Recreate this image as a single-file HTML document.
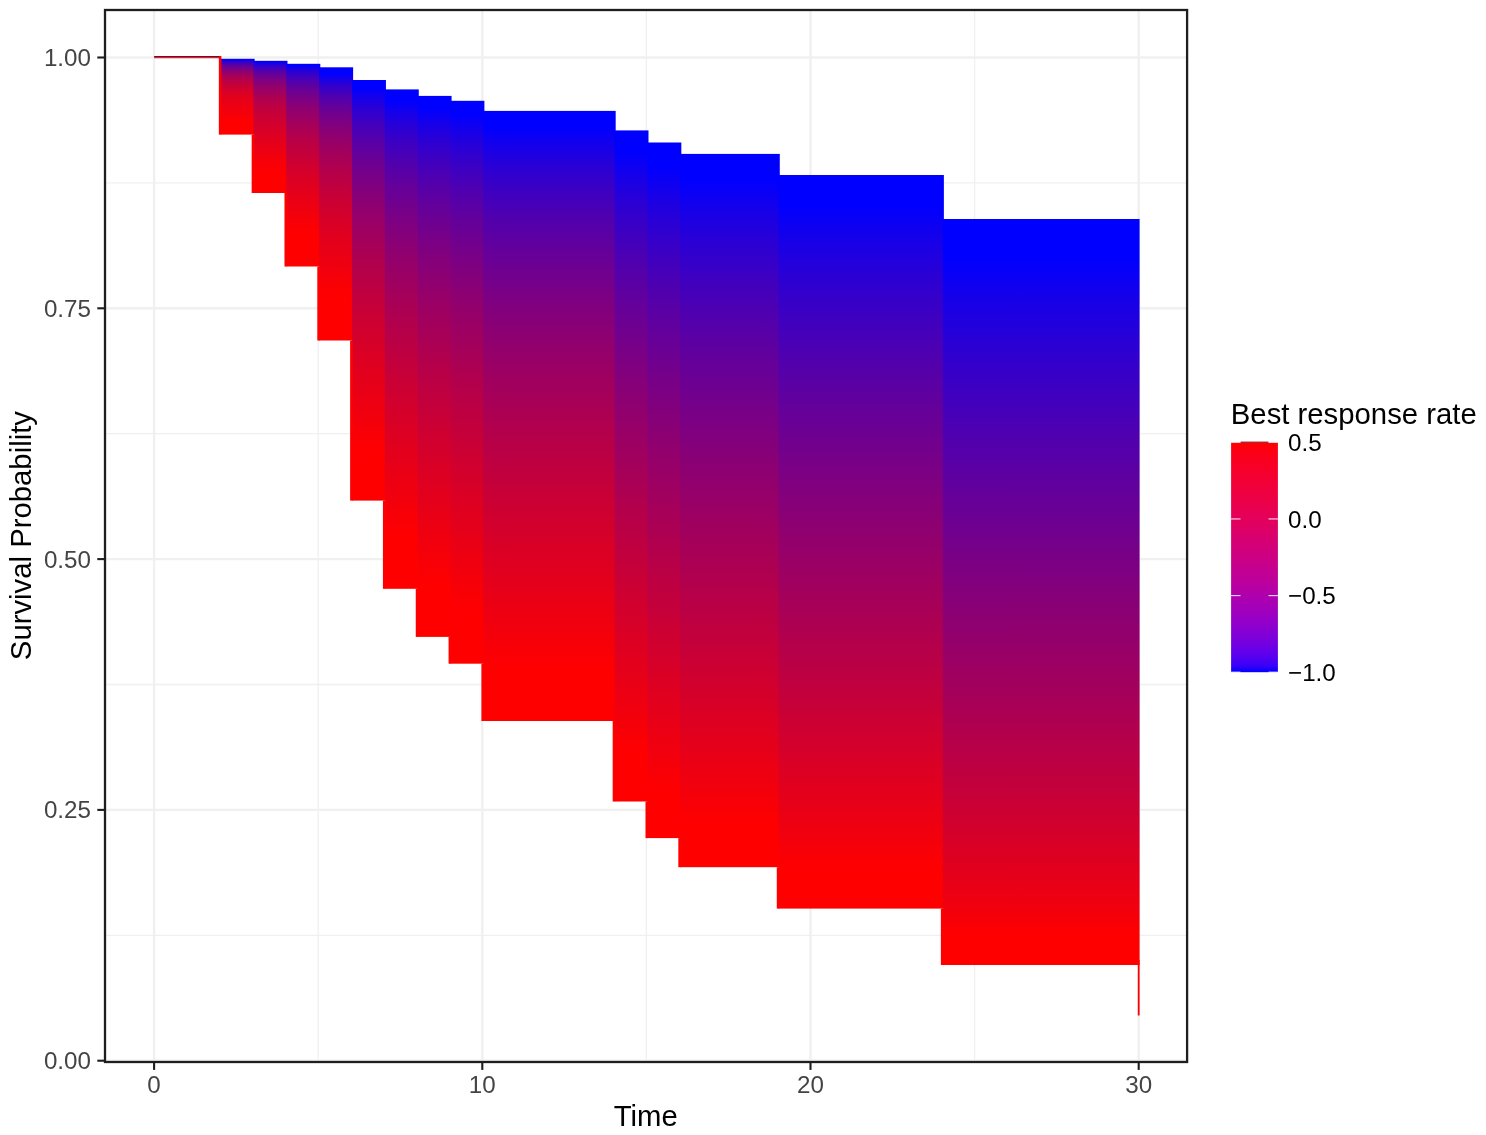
<!DOCTYPE html>
<html><head><meta charset="utf-8"><title>Survival curves</title><style>html,body{margin:0;padding:0;background:#fff;}body{width:1486px;height:1135px;overflow:hidden;}svg{display:block;}</style></head><body>
<svg width="1486" height="1135" viewBox="0 0 1486 1135" font-family="'Liberation Sans', Arial, sans-serif"><defs><linearGradient id="g0" gradientUnits="userSpaceOnUse" x1="0" y1="59.60" x2="0" y2="133.80"><stop offset="0.0000" stop-color="#0000ff"/><stop offset="0.0010" stop-color="#0200fd"/><stop offset="0.0021" stop-color="#0500fa"/><stop offset="0.0033" stop-color="#0700f8"/><stop offset="0.0044" stop-color="#0900f6"/><stop offset="0.0056" stop-color="#0c00f3"/><stop offset="0.0069" stop-color="#0e00f1"/><stop offset="0.0082" stop-color="#1000ef"/><stop offset="0.0095" stop-color="#1200ed"/><stop offset="0.0109" stop-color="#1500ea"/><stop offset="0.0124" stop-color="#1700e8"/><stop offset="0.0139" stop-color="#1900e6"/><stop offset="0.0154" stop-color="#1c00e3"/><stop offset="0.0170" stop-color="#1e00e1"/><stop offset="0.0187" stop-color="#2000df"/><stop offset="0.0205" stop-color="#2300dc"/><stop offset="0.0223" stop-color="#2500da"/><stop offset="0.0241" stop-color="#2700d8"/><stop offset="0.0261" stop-color="#2a00d5"/><stop offset="0.0281" stop-color="#2c00d3"/><stop offset="0.0301" stop-color="#2e00d1"/><stop offset="0.0323" stop-color="#3000cf"/><stop offset="0.0345" stop-color="#3300cc"/><stop offset="0.0368" stop-color="#3600c9"/><stop offset="0.0393" stop-color="#3900c6"/><stop offset="0.0417" stop-color="#3c00c3"/><stop offset="0.0443" stop-color="#3f00c0"/><stop offset="0.0470" stop-color="#4100be"/><stop offset="0.0498" stop-color="#4400bb"/><stop offset="0.0527" stop-color="#4700b8"/><stop offset="0.0556" stop-color="#4a00b5"/><stop offset="0.0587" stop-color="#4d00b2"/><stop offset="0.0619" stop-color="#5000af"/><stop offset="0.0653" stop-color="#5200ad"/><stop offset="0.0687" stop-color="#5500aa"/><stop offset="0.0723" stop-color="#5800a7"/><stop offset="0.0760" stop-color="#5b00a4"/><stop offset="0.0798" stop-color="#5e00a1"/><stop offset="0.0838" stop-color="#60009f"/><stop offset="0.0879" stop-color="#63009c"/><stop offset="0.0922" stop-color="#660099"/><stop offset="0.0967" stop-color="#690096"/><stop offset="0.1013" stop-color="#6c0093"/><stop offset="0.1060" stop-color="#6f0090"/><stop offset="0.1110" stop-color="#71008e"/><stop offset="0.1161" stop-color="#74008b"/><stop offset="0.1214" stop-color="#770088"/><stop offset="0.1269" stop-color="#7a0085"/><stop offset="0.1326" stop-color="#7d0082"/><stop offset="0.1385" stop-color="#800080"/><stop offset="0.1447" stop-color="#83007c"/><stop offset="0.1510" stop-color="#860079"/><stop offset="0.1576" stop-color="#8a0075"/><stop offset="0.1644" stop-color="#8d0072"/><stop offset="0.1715" stop-color="#91006e"/><stop offset="0.1788" stop-color="#94006b"/><stop offset="0.1864" stop-color="#980067"/><stop offset="0.1943" stop-color="#9b0064"/><stop offset="0.2025" stop-color="#9f0060"/><stop offset="0.2109" stop-color="#a2005d"/><stop offset="0.2197" stop-color="#a60059"/><stop offset="0.2260" stop-color="#a80057"/><stop offset="0.2288" stop-color="#a90056"/><stop offset="0.2382" stop-color="#ac0053"/><stop offset="0.2479" stop-color="#af0050"/><stop offset="0.2580" stop-color="#b1004e"/><stop offset="0.2685" stop-color="#b4004b"/><stop offset="0.2793" stop-color="#b70048"/><stop offset="0.2906" stop-color="#ba0045"/><stop offset="0.3022" stop-color="#bc0043"/><stop offset="0.3143" stop-color="#bf0040"/><stop offset="0.3268" stop-color="#c2003d"/><stop offset="0.3397" stop-color="#c5003a"/><stop offset="0.3532" stop-color="#c80037"/><stop offset="0.3671" stop-color="#cb0034"/><stop offset="0.3815" stop-color="#ce0031"/><stop offset="0.3964" stop-color="#d1002e"/><stop offset="0.4118" stop-color="#d4002b"/><stop offset="0.4262" stop-color="#d60029"/><stop offset="0.4278" stop-color="#d60029"/><stop offset="0.4444" stop-color="#d90026"/><stop offset="0.4615" stop-color="#dc0023"/><stop offset="0.4793" stop-color="#de0021"/><stop offset="0.4977" stop-color="#e1001e"/><stop offset="0.5167" stop-color="#e4001b"/><stop offset="0.5305" stop-color="#e60019"/><stop offset="0.5365" stop-color="#e60019"/><stop offset="0.5569" stop-color="#e80017"/><stop offset="0.5780" stop-color="#e90016"/><stop offset="0.5999" stop-color="#eb0014"/><stop offset="0.6226" stop-color="#ed0012"/><stop offset="0.6461" stop-color="#ef0010"/><stop offset="0.6703" stop-color="#f0000f"/><stop offset="0.6955" stop-color="#f2000d"/><stop offset="0.7215" stop-color="#f4000b"/><stop offset="0.7348" stop-color="#f5000a"/><stop offset="0.7484" stop-color="#f60009"/><stop offset="0.7762" stop-color="#f90006"/><stop offset="0.8051" stop-color="#fc0003"/><stop offset="0.8318" stop-color="#ff0000"/><stop offset="0.8349" stop-color="#ff0000"/><stop offset="0.8657" stop-color="#ff0000"/><stop offset="0.8976" stop-color="#ff0000"/><stop offset="0.9306" stop-color="#ff0000"/><stop offset="0.9647" stop-color="#ff0000"/><stop offset="1.0000" stop-color="#ff0000"/></linearGradient><linearGradient id="g1" gradientUnits="userSpaceOnUse" x1="0" y1="61.60" x2="0" y2="192.20"><stop offset="0.0000" stop-color="#0000ff"/><stop offset="0.0011" stop-color="#0200fd"/><stop offset="0.0023" stop-color="#0400fb"/><stop offset="0.0035" stop-color="#0600f9"/><stop offset="0.0048" stop-color="#0800f6"/><stop offset="0.0061" stop-color="#0b00f4"/><stop offset="0.0075" stop-color="#0d00f2"/><stop offset="0.0089" stop-color="#0f00f0"/><stop offset="0.0103" stop-color="#1100ee"/><stop offset="0.0118" stop-color="#1300ec"/><stop offset="0.0134" stop-color="#1500ea"/><stop offset="0.0150" stop-color="#1700e8"/><stop offset="0.0167" stop-color="#1a00e6"/><stop offset="0.0184" stop-color="#1c00e3"/><stop offset="0.0202" stop-color="#1e00e1"/><stop offset="0.0210" stop-color="#1f00e0"/><stop offset="0.0221" stop-color="#2000df"/><stop offset="0.0240" stop-color="#2300dc"/><stop offset="0.0260" stop-color="#2600d9"/><stop offset="0.0281" stop-color="#2900d6"/><stop offset="0.0302" stop-color="#2b00d4"/><stop offset="0.0325" stop-color="#2e00d1"/><stop offset="0.0348" stop-color="#3100ce"/><stop offset="0.0372" stop-color="#3400cb"/><stop offset="0.0396" stop-color="#3700c8"/><stop offset="0.0422" stop-color="#3900c6"/><stop offset="0.0449" stop-color="#3c00c3"/><stop offset="0.0476" stop-color="#3f00c0"/><stop offset="0.0505" stop-color="#4200bd"/><stop offset="0.0534" stop-color="#4400bb"/><stop offset="0.0565" stop-color="#4700b8"/><stop offset="0.0596" stop-color="#4a00b5"/><stop offset="0.0629" stop-color="#4d00b2"/><stop offset="0.0663" stop-color="#5000af"/><stop offset="0.0698" stop-color="#5200ad"/><stop offset="0.0735" stop-color="#5500aa"/><stop offset="0.0772" stop-color="#5800a7"/><stop offset="0.0811" stop-color="#5b00a4"/><stop offset="0.0852" stop-color="#5e00a1"/><stop offset="0.0894" stop-color="#60009f"/><stop offset="0.0937" stop-color="#63009c"/><stop offset="0.0982" stop-color="#660099"/><stop offset="0.1029" stop-color="#690096"/><stop offset="0.1077" stop-color="#6b0094"/><stop offset="0.1127" stop-color="#6e0091"/><stop offset="0.1163" stop-color="#70008f"/><stop offset="0.1179" stop-color="#71008e"/><stop offset="0.1232" stop-color="#74008b"/><stop offset="0.1288" stop-color="#770088"/><stop offset="0.1345" stop-color="#7a0085"/><stop offset="0.1405" stop-color="#7d0082"/><stop offset="0.1466" stop-color="#80007f"/><stop offset="0.1530" stop-color="#82007d"/><stop offset="0.1596" stop-color="#85007a"/><stop offset="0.1665" stop-color="#880077"/><stop offset="0.1735" stop-color="#8b0074"/><stop offset="0.1809" stop-color="#8e0071"/><stop offset="0.1884" stop-color="#91006e"/><stop offset="0.1963" stop-color="#94006b"/><stop offset="0.2044" stop-color="#970068"/><stop offset="0.2111" stop-color="#990066"/><stop offset="0.2128" stop-color="#9a0065"/><stop offset="0.2215" stop-color="#9c0063"/><stop offset="0.2305" stop-color="#9f0060"/><stop offset="0.2399" stop-color="#a2005d"/><stop offset="0.2495" stop-color="#a5005a"/><stop offset="0.2595" stop-color="#a80057"/><stop offset="0.2698" stop-color="#ab0054"/><stop offset="0.2805" stop-color="#ae0051"/><stop offset="0.2916" stop-color="#b1004e"/><stop offset="0.3031" stop-color="#b4004b"/><stop offset="0.3149" stop-color="#b70048"/><stop offset="0.3272" stop-color="#b90046"/><stop offset="0.3398" stop-color="#bc0043"/><stop offset="0.3530" stop-color="#bf0040"/><stop offset="0.3665" stop-color="#c1003e"/><stop offset="0.3806" stop-color="#c4003b"/><stop offset="0.3951" stop-color="#c60039"/><stop offset="0.4101" stop-color="#c80037"/><stop offset="0.4256" stop-color="#ca0035"/><stop offset="0.4417" stop-color="#cd0032"/><stop offset="0.4582" stop-color="#cf0030"/><stop offset="0.4754" stop-color="#d1002e"/><stop offset="0.4931" stop-color="#d3002c"/><stop offset="0.4949" stop-color="#d4002b"/><stop offset="0.5115" stop-color="#d60029"/><stop offset="0.5304" stop-color="#d90026"/><stop offset="0.5500" stop-color="#db0024"/><stop offset="0.5702" stop-color="#de0021"/><stop offset="0.5911" stop-color="#e0001f"/><stop offset="0.6127" stop-color="#e3001c"/><stop offset="0.6350" stop-color="#e60019"/><stop offset="0.6581" stop-color="#e90016"/><stop offset="0.6819" stop-color="#ec0013"/><stop offset="0.7064" stop-color="#ef0010"/><stop offset="0.7318" stop-color="#f2000d"/><stop offset="0.7580" stop-color="#f5000a"/><stop offset="0.7768" stop-color="#f70008"/><stop offset="0.7850" stop-color="#f80007"/><stop offset="0.8130" stop-color="#fa0005"/><stop offset="0.8418" stop-color="#fc0003"/><stop offset="0.8715" stop-color="#fe0001"/><stop offset="0.8959" stop-color="#ff0000"/><stop offset="0.9021" stop-color="#ff0000"/><stop offset="0.9338" stop-color="#ff0000"/><stop offset="0.9664" stop-color="#ff0000"/><stop offset="1.0000" stop-color="#ff0000"/></linearGradient><linearGradient id="g2" gradientUnits="userSpaceOnUse" x1="0" y1="64.60" x2="0" y2="265.70"><stop offset="0.0000" stop-color="#0000ff"/><stop offset="0.0012" stop-color="#0000ff"/><stop offset="0.0025" stop-color="#0000ff"/><stop offset="0.0039" stop-color="#0000ff"/><stop offset="0.0053" stop-color="#0200fd"/><stop offset="0.0067" stop-color="#0500fa"/><stop offset="0.0082" stop-color="#0700f8"/><stop offset="0.0097" stop-color="#0a00f5"/><stop offset="0.0113" stop-color="#0c00f3"/><stop offset="0.0130" stop-color="#0e00f1"/><stop offset="0.0147" stop-color="#1100ee"/><stop offset="0.0164" stop-color="#1300ec"/><stop offset="0.0183" stop-color="#1600e9"/><stop offset="0.0201" stop-color="#1800e7"/><stop offset="0.0221" stop-color="#1b00e4"/><stop offset="0.0241" stop-color="#1d00e2"/><stop offset="0.0262" stop-color="#2000df"/><stop offset="0.0284" stop-color="#2200dd"/><stop offset="0.0306" stop-color="#2500da"/><stop offset="0.0330" stop-color="#2700d8"/><stop offset="0.0354" stop-color="#2a00d5"/><stop offset="0.0379" stop-color="#2c00d3"/><stop offset="0.0404" stop-color="#2f00d0"/><stop offset="0.0431" stop-color="#3100ce"/><stop offset="0.0459" stop-color="#3400cb"/><stop offset="0.0487" stop-color="#3600c9"/><stop offset="0.0517" stop-color="#3900c6"/><stop offset="0.0548" stop-color="#3c00c3"/><stop offset="0.0579" stop-color="#3e00c1"/><stop offset="0.0612" stop-color="#4100be"/><stop offset="0.0646" stop-color="#4300bc"/><stop offset="0.0681" stop-color="#4600b9"/><stop offset="0.0717" stop-color="#4900b6"/><stop offset="0.0755" stop-color="#4b00b4"/><stop offset="0.0794" stop-color="#4e00b1"/><stop offset="0.0834" stop-color="#5100ae"/><stop offset="0.0876" stop-color="#5300ac"/><stop offset="0.0919" stop-color="#5600a9"/><stop offset="0.0963" stop-color="#5900a6"/><stop offset="0.1009" stop-color="#5b00a4"/><stop offset="0.1057" stop-color="#5e00a1"/><stop offset="0.1106" stop-color="#61009e"/><stop offset="0.1157" stop-color="#63009c"/><stop offset="0.1210" stop-color="#660099"/><stop offset="0.1265" stop-color="#690096"/><stop offset="0.1321" stop-color="#6c0093"/><stop offset="0.1380" stop-color="#6e0091"/><stop offset="0.1440" stop-color="#71008e"/><stop offset="0.1503" stop-color="#74008b"/><stop offset="0.1567" stop-color="#770088"/><stop offset="0.1634" stop-color="#790086"/><stop offset="0.1703" stop-color="#7c0083"/><stop offset="0.1774" stop-color="#7f0080"/><stop offset="0.1848" stop-color="#82007d"/><stop offset="0.1925" stop-color="#85007a"/><stop offset="0.2004" stop-color="#870078"/><stop offset="0.2085" stop-color="#8a0075"/><stop offset="0.2169" stop-color="#8d0072"/><stop offset="0.2257" stop-color="#90006f"/><stop offset="0.2347" stop-color="#93006c"/><stop offset="0.2440" stop-color="#960069"/><stop offset="0.2536" stop-color="#980067"/><stop offset="0.2636" stop-color="#9b0064"/><stop offset="0.2738" stop-color="#9e0061"/><stop offset="0.2844" stop-color="#a1005e"/><stop offset="0.2954" stop-color="#a4005b"/><stop offset="0.3067" stop-color="#a70058"/><stop offset="0.3185" stop-color="#aa0055"/><stop offset="0.3305" stop-color="#ad0052"/><stop offset="0.3430" stop-color="#b0004f"/><stop offset="0.3559" stop-color="#b3004c"/><stop offset="0.3692" stop-color="#b60049"/><stop offset="0.3830" stop-color="#b90046"/><stop offset="0.3972" stop-color="#bc0043"/><stop offset="0.4118" stop-color="#bf0040"/><stop offset="0.4269" stop-color="#c1003e"/><stop offset="0.4425" stop-color="#c4003b"/><stop offset="0.4586" stop-color="#c70038"/><stop offset="0.4752" stop-color="#cb0034"/><stop offset="0.4924" stop-color="#ce0031"/><stop offset="0.5100" stop-color="#d1002e"/><stop offset="0.5283" stop-color="#d4002b"/><stop offset="0.5470" stop-color="#d70028"/><stop offset="0.5664" stop-color="#da0025"/><stop offset="0.5864" stop-color="#dd0022"/><stop offset="0.6070" stop-color="#e0001f"/><stop offset="0.6282" stop-color="#e3001c"/><stop offset="0.6501" stop-color="#e60019"/><stop offset="0.6726" stop-color="#e90016"/><stop offset="0.6958" stop-color="#ec0013"/><stop offset="0.7197" stop-color="#ef0010"/><stop offset="0.7443" stop-color="#f2000d"/><stop offset="0.7696" stop-color="#f60009"/><stop offset="0.7956" stop-color="#f90006"/><stop offset="0.8224" stop-color="#fc0003"/><stop offset="0.8500" stop-color="#ff0000"/><stop offset="0.8784" stop-color="#ff0000"/><stop offset="0.9076" stop-color="#ff0000"/><stop offset="0.9375" stop-color="#ff0000"/><stop offset="0.9683" stop-color="#ff0000"/><stop offset="1.0000" stop-color="#ff0000"/></linearGradient><linearGradient id="g3" gradientUnits="userSpaceOnUse" x1="0" y1="68.10" x2="0" y2="339.70"><stop offset="0.0000" stop-color="#0000ff"/><stop offset="0.0014" stop-color="#0000ff"/><stop offset="0.0028" stop-color="#0000ff"/><stop offset="0.0042" stop-color="#0000ff"/><stop offset="0.0057" stop-color="#0000ff"/><stop offset="0.0073" stop-color="#0000ff"/><stop offset="0.0089" stop-color="#0000ff"/><stop offset="0.0105" stop-color="#0000ff"/><stop offset="0.0123" stop-color="#0000ff"/><stop offset="0.0140" stop-color="#0000ff"/><stop offset="0.0159" stop-color="#0000ff"/><stop offset="0.0178" stop-color="#0000ff"/><stop offset="0.0198" stop-color="#0000ff"/><stop offset="0.0218" stop-color="#0000ff"/><stop offset="0.0228" stop-color="#0000ff"/><stop offset="0.0239" stop-color="#0200fd"/><stop offset="0.0261" stop-color="#0500fa"/><stop offset="0.0284" stop-color="#0800f7"/><stop offset="0.0307" stop-color="#0b00f4"/><stop offset="0.0331" stop-color="#0e00f1"/><stop offset="0.0356" stop-color="#1100ee"/><stop offset="0.0382" stop-color="#1400eb"/><stop offset="0.0408" stop-color="#1800e7"/><stop offset="0.0436" stop-color="#1b00e4"/><stop offset="0.0465" stop-color="#1e00e1"/><stop offset="0.0494" stop-color="#2100de"/><stop offset="0.0525" stop-color="#2400db"/><stop offset="0.0556" stop-color="#2700d8"/><stop offset="0.0589" stop-color="#2a00d5"/><stop offset="0.0623" stop-color="#2e00d1"/><stop offset="0.0658" stop-color="#3100ce"/><stop offset="0.0694" stop-color="#3400cb"/><stop offset="0.0731" stop-color="#3700c8"/><stop offset="0.0770" stop-color="#3a00c5"/><stop offset="0.0810" stop-color="#3d00c2"/><stop offset="0.0851" stop-color="#4000bf"/><stop offset="0.0893" stop-color="#4400bb"/><stop offset="0.0938" stop-color="#4700b8"/><stop offset="0.0983" stop-color="#4a00b5"/><stop offset="0.1030" stop-color="#4d00b2"/><stop offset="0.1079" stop-color="#5000af"/><stop offset="0.1129" stop-color="#5300ac"/><stop offset="0.1181" stop-color="#5600a9"/><stop offset="0.1235" stop-color="#5a00a5"/><stop offset="0.1290" stop-color="#5d00a2"/><stop offset="0.1348" stop-color="#60009f"/><stop offset="0.1407" stop-color="#63009c"/><stop offset="0.1468" stop-color="#660099"/><stop offset="0.1531" stop-color="#690096"/><stop offset="0.1597" stop-color="#6c0093"/><stop offset="0.1664" stop-color="#6f0090"/><stop offset="0.1734" stop-color="#73008c"/><stop offset="0.1806" stop-color="#760089"/><stop offset="0.1881" stop-color="#790086"/><stop offset="0.1957" stop-color="#7c0083"/><stop offset="0.2037" stop-color="#7f0080"/><stop offset="0.2119" stop-color="#82007d"/><stop offset="0.2203" stop-color="#85007a"/><stop offset="0.2291" stop-color="#890076"/><stop offset="0.2381" stop-color="#8c0073"/><stop offset="0.2474" stop-color="#8f0070"/><stop offset="0.2570" stop-color="#92006d"/><stop offset="0.2669" stop-color="#95006a"/><stop offset="0.2771" stop-color="#980067"/><stop offset="0.2877" stop-color="#9b0064"/><stop offset="0.2985" stop-color="#9f0060"/><stop offset="0.3098" stop-color="#a2005d"/><stop offset="0.3214" stop-color="#a5005a"/><stop offset="0.3333" stop-color="#a80057"/><stop offset="0.3456" stop-color="#ab0054"/><stop offset="0.3583" stop-color="#ae0051"/><stop offset="0.3714" stop-color="#b1004e"/><stop offset="0.3849" stop-color="#b5004a"/><stop offset="0.3988" stop-color="#b80047"/><stop offset="0.4131" stop-color="#bb0044"/><stop offset="0.4279" stop-color="#be0041"/><stop offset="0.4431" stop-color="#c1003e"/><stop offset="0.4588" stop-color="#c4003b"/><stop offset="0.4749" stop-color="#c70038"/><stop offset="0.4915" stop-color="#cb0034"/><stop offset="0.5087" stop-color="#ce0031"/><stop offset="0.5263" stop-color="#d1002e"/><stop offset="0.5444" stop-color="#d4002b"/><stop offset="0.5630" stop-color="#d70028"/><stop offset="0.5822" stop-color="#da0025"/><stop offset="0.6019" stop-color="#dd0022"/><stop offset="0.6222" stop-color="#e1001e"/><stop offset="0.6430" stop-color="#e4001b"/><stop offset="0.6645" stop-color="#e70018"/><stop offset="0.6865" stop-color="#ea0015"/><stop offset="0.7091" stop-color="#ed0012"/><stop offset="0.7323" stop-color="#f0000f"/><stop offset="0.7561" stop-color="#f3000c"/><stop offset="0.7806" stop-color="#f70008"/><stop offset="0.8057" stop-color="#fa0005"/><stop offset="0.8315" stop-color="#fd0002"/><stop offset="0.8499" stop-color="#ff0000"/><stop offset="0.8579" stop-color="#ff0000"/><stop offset="0.8849" stop-color="#ff0000"/><stop offset="0.9127" stop-color="#ff0000"/><stop offset="0.9411" stop-color="#ff0000"/><stop offset="0.9702" stop-color="#ff0000"/><stop offset="1.0000" stop-color="#ff0000"/></linearGradient><linearGradient id="g4" gradientUnits="userSpaceOnUse" x1="0" y1="80.80" x2="0" y2="499.80"><stop offset="0.0000" stop-color="#0000ff"/><stop offset="0.0018" stop-color="#0000ff"/><stop offset="0.0036" stop-color="#0000ff"/><stop offset="0.0055" stop-color="#0000ff"/><stop offset="0.0075" stop-color="#0000ff"/><stop offset="0.0095" stop-color="#0000ff"/><stop offset="0.0116" stop-color="#0000ff"/><stop offset="0.0138" stop-color="#0000ff"/><stop offset="0.0160" stop-color="#0000ff"/><stop offset="0.0183" stop-color="#0000ff"/><stop offset="0.0207" stop-color="#0300fc"/><stop offset="0.0231" stop-color="#0500fa"/><stop offset="0.0257" stop-color="#0800f7"/><stop offset="0.0283" stop-color="#0a00f5"/><stop offset="0.0310" stop-color="#0d00f2"/><stop offset="0.0337" stop-color="#1000ef"/><stop offset="0.0366" stop-color="#1200ed"/><stop offset="0.0395" stop-color="#1500ea"/><stop offset="0.0426" stop-color="#1800e7"/><stop offset="0.0457" stop-color="#1a00e5"/><stop offset="0.0489" stop-color="#1d00e2"/><stop offset="0.0523" stop-color="#2000df"/><stop offset="0.0557" stop-color="#2200dd"/><stop offset="0.0592" stop-color="#2500da"/><stop offset="0.0629" stop-color="#2800d7"/><stop offset="0.0666" stop-color="#2b00d4"/><stop offset="0.0705" stop-color="#2d00d2"/><stop offset="0.0745" stop-color="#3000cf"/><stop offset="0.0786" stop-color="#3300cc"/><stop offset="0.0829" stop-color="#3600c9"/><stop offset="0.0873" stop-color="#3800c7"/><stop offset="0.0918" stop-color="#3b00c4"/><stop offset="0.0964" stop-color="#3e00c1"/><stop offset="0.1012" stop-color="#4100be"/><stop offset="0.1062" stop-color="#4300bc"/><stop offset="0.1112" stop-color="#4600b9"/><stop offset="0.1165" stop-color="#4900b6"/><stop offset="0.1219" stop-color="#4c00b3"/><stop offset="0.1274" stop-color="#4f00b0"/><stop offset="0.1332" stop-color="#5200ad"/><stop offset="0.1391" stop-color="#5400ab"/><stop offset="0.1451" stop-color="#5700a8"/><stop offset="0.1514" stop-color="#5a00a5"/><stop offset="0.1578" stop-color="#5d00a2"/><stop offset="0.1645" stop-color="#60009f"/><stop offset="0.1713" stop-color="#63009c"/><stop offset="0.1783" stop-color="#660099"/><stop offset="0.1855" stop-color="#680097"/><stop offset="0.1930" stop-color="#6b0094"/><stop offset="0.2006" stop-color="#6e0091"/><stop offset="0.2085" stop-color="#71008e"/><stop offset="0.2166" stop-color="#74008b"/><stop offset="0.2250" stop-color="#770088"/><stop offset="0.2335" stop-color="#7a0085"/><stop offset="0.2423" stop-color="#7d0082"/><stop offset="0.2514" stop-color="#80007f"/><stop offset="0.2607" stop-color="#83007c"/><stop offset="0.2703" stop-color="#860079"/><stop offset="0.2801" stop-color="#890076"/><stop offset="0.2903" stop-color="#8c0073"/><stop offset="0.3007" stop-color="#8f0070"/><stop offset="0.3113" stop-color="#92006d"/><stop offset="0.3223" stop-color="#95006a"/><stop offset="0.3336" stop-color="#980067"/><stop offset="0.3451" stop-color="#9b0064"/><stop offset="0.3570" stop-color="#9e0061"/><stop offset="0.3692" stop-color="#a1005e"/><stop offset="0.3817" stop-color="#a4005b"/><stop offset="0.3945" stop-color="#a70058"/><stop offset="0.4077" stop-color="#aa0055"/><stop offset="0.4212" stop-color="#ad0052"/><stop offset="0.4350" stop-color="#b1004e"/><stop offset="0.4492" stop-color="#b4004b"/><stop offset="0.4637" stop-color="#b70048"/><stop offset="0.4786" stop-color="#ba0045"/><stop offset="0.4938" stop-color="#bd0042"/><stop offset="0.5094" stop-color="#c0003f"/><stop offset="0.5254" stop-color="#c3003c"/><stop offset="0.5418" stop-color="#c60039"/><stop offset="0.5585" stop-color="#ca0035"/><stop offset="0.5756" stop-color="#cd0032"/><stop offset="0.5932" stop-color="#d0002f"/><stop offset="0.6110" stop-color="#d3002c"/><stop offset="0.6293" stop-color="#d60029"/><stop offset="0.6480" stop-color="#da0025"/><stop offset="0.6671" stop-color="#dd0022"/><stop offset="0.6866" stop-color="#e0001f"/><stop offset="0.7064" stop-color="#e3001c"/><stop offset="0.7267" stop-color="#e60019"/><stop offset="0.7473" stop-color="#ea0015"/><stop offset="0.7684" stop-color="#ed0012"/><stop offset="0.7898" stop-color="#f0000f"/><stop offset="0.8117" stop-color="#f3000c"/><stop offset="0.8339" stop-color="#f70008"/><stop offset="0.8565" stop-color="#fa0005"/><stop offset="0.8795" stop-color="#fd0002"/><stop offset="0.8912" stop-color="#ff0000"/><stop offset="0.9029" stop-color="#ff0000"/><stop offset="0.9266" stop-color="#ff0000"/><stop offset="0.9507" stop-color="#ff0000"/><stop offset="0.9752" stop-color="#ff0000"/><stop offset="1.0000" stop-color="#ff0000"/></linearGradient><linearGradient id="g5" gradientUnits="userSpaceOnUse" x1="0" y1="90.20" x2="0" y2="588.00"><stop offset="0.0000" stop-color="#0000ff"/><stop offset="0.0020" stop-color="#0000ff"/><stop offset="0.0042" stop-color="#0000ff"/><stop offset="0.0063" stop-color="#0000ff"/><stop offset="0.0086" stop-color="#0000ff"/><stop offset="0.0109" stop-color="#0000ff"/><stop offset="0.0133" stop-color="#0000ff"/><stop offset="0.0157" stop-color="#0000ff"/><stop offset="0.0182" stop-color="#0000ff"/><stop offset="0.0209" stop-color="#0000ff"/><stop offset="0.0235" stop-color="#0300fc"/><stop offset="0.0263" stop-color="#0500fa"/><stop offset="0.0291" stop-color="#0800f7"/><stop offset="0.0321" stop-color="#0a00f5"/><stop offset="0.0351" stop-color="#0d00f2"/><stop offset="0.0382" stop-color="#1000ef"/><stop offset="0.0414" stop-color="#1200ed"/><stop offset="0.0447" stop-color="#1500ea"/><stop offset="0.0481" stop-color="#1800e7"/><stop offset="0.0516" stop-color="#1a00e5"/><stop offset="0.0552" stop-color="#1d00e2"/><stop offset="0.0590" stop-color="#2000df"/><stop offset="0.0628" stop-color="#2200dd"/><stop offset="0.0667" stop-color="#2500da"/><stop offset="0.0708" stop-color="#2800d7"/><stop offset="0.0749" stop-color="#2b00d4"/><stop offset="0.0792" stop-color="#2d00d2"/><stop offset="0.0837" stop-color="#3000cf"/><stop offset="0.0882" stop-color="#3300cc"/><stop offset="0.0929" stop-color="#3600c9"/><stop offset="0.0977" stop-color="#3800c7"/><stop offset="0.1027" stop-color="#3b00c4"/><stop offset="0.1078" stop-color="#3e00c1"/><stop offset="0.1130" stop-color="#4100be"/><stop offset="0.1184" stop-color="#4300bc"/><stop offset="0.1240" stop-color="#4600b9"/><stop offset="0.1297" stop-color="#4900b6"/><stop offset="0.1356" stop-color="#4c00b3"/><stop offset="0.1416" stop-color="#4f00b0"/><stop offset="0.1479" stop-color="#5200ad"/><stop offset="0.1542" stop-color="#5400ab"/><stop offset="0.1608" stop-color="#5700a8"/><stop offset="0.1676" stop-color="#5a00a5"/><stop offset="0.1745" stop-color="#5d00a2"/><stop offset="0.1816" stop-color="#60009f"/><stop offset="0.1890" stop-color="#63009c"/><stop offset="0.1965" stop-color="#660099"/><stop offset="0.2042" stop-color="#680097"/><stop offset="0.2122" stop-color="#6b0094"/><stop offset="0.2203" stop-color="#6e0091"/><stop offset="0.2287" stop-color="#71008e"/><stop offset="0.2373" stop-color="#74008b"/><stop offset="0.2461" stop-color="#770088"/><stop offset="0.2552" stop-color="#7a0085"/><stop offset="0.2645" stop-color="#7d0082"/><stop offset="0.2740" stop-color="#80007f"/><stop offset="0.2838" stop-color="#83007c"/><stop offset="0.2938" stop-color="#860079"/><stop offset="0.3041" stop-color="#890076"/><stop offset="0.3147" stop-color="#8c0073"/><stop offset="0.3255" stop-color="#8f0070"/><stop offset="0.3365" stop-color="#92006d"/><stop offset="0.3479" stop-color="#95006a"/><stop offset="0.3595" stop-color="#980067"/><stop offset="0.3714" stop-color="#9b0064"/><stop offset="0.3836" stop-color="#9e0061"/><stop offset="0.3961" stop-color="#a1005e"/><stop offset="0.4089" stop-color="#a4005b"/><stop offset="0.4219" stop-color="#a70058"/><stop offset="0.4353" stop-color="#aa0055"/><stop offset="0.4490" stop-color="#ad0052"/><stop offset="0.4629" stop-color="#b1004e"/><stop offset="0.4772" stop-color="#b4004b"/><stop offset="0.4918" stop-color="#b70048"/><stop offset="0.5067" stop-color="#ba0045"/><stop offset="0.5219" stop-color="#bd0042"/><stop offset="0.5374" stop-color="#c0003f"/><stop offset="0.5533" stop-color="#c3003c"/><stop offset="0.5694" stop-color="#c60039"/><stop offset="0.5859" stop-color="#ca0035"/><stop offset="0.6027" stop-color="#cd0032"/><stop offset="0.6198" stop-color="#d0002f"/><stop offset="0.6372" stop-color="#d3002c"/><stop offset="0.6550" stop-color="#d60029"/><stop offset="0.6730" stop-color="#da0025"/><stop offset="0.6914" stop-color="#dd0022"/><stop offset="0.7100" stop-color="#e0001f"/><stop offset="0.7290" stop-color="#e3001c"/><stop offset="0.7482" stop-color="#e60019"/><stop offset="0.7678" stop-color="#ea0015"/><stop offset="0.7876" stop-color="#ed0012"/><stop offset="0.8078" stop-color="#f0000f"/><stop offset="0.8281" stop-color="#f3000c"/><stop offset="0.8488" stop-color="#f70008"/><stop offset="0.8697" stop-color="#fa0005"/><stop offset="0.8909" stop-color="#fd0002"/><stop offset="0.9016" stop-color="#ff0000"/><stop offset="0.9123" stop-color="#ff0000"/><stop offset="0.9339" stop-color="#ff0000"/><stop offset="0.9557" stop-color="#ff0000"/><stop offset="0.9778" stop-color="#ff0000"/><stop offset="1.0000" stop-color="#ff0000"/></linearGradient><linearGradient id="g6" gradientUnits="userSpaceOnUse" x1="0" y1="96.70" x2="0" y2="636.10"><stop offset="0.0000" stop-color="#0000ff"/><stop offset="0.0022" stop-color="#0000ff"/><stop offset="0.0045" stop-color="#0000ff"/><stop offset="0.0069" stop-color="#0000ff"/><stop offset="0.0093" stop-color="#0000ff"/><stop offset="0.0118" stop-color="#0000ff"/><stop offset="0.0144" stop-color="#0000ff"/><stop offset="0.0170" stop-color="#0000ff"/><stop offset="0.0197" stop-color="#0000ff"/><stop offset="0.0225" stop-color="#0000ff"/><stop offset="0.0254" stop-color="#0300fc"/><stop offset="0.0284" stop-color="#0500fa"/><stop offset="0.0315" stop-color="#0800f7"/><stop offset="0.0346" stop-color="#0a00f5"/><stop offset="0.0379" stop-color="#0d00f2"/><stop offset="0.0412" stop-color="#1000ef"/><stop offset="0.0446" stop-color="#1200ed"/><stop offset="0.0482" stop-color="#1500ea"/><stop offset="0.0518" stop-color="#1800e7"/><stop offset="0.0556" stop-color="#1a00e5"/><stop offset="0.0594" stop-color="#1d00e2"/><stop offset="0.0634" stop-color="#2000df"/><stop offset="0.0675" stop-color="#2200dd"/><stop offset="0.0717" stop-color="#2500da"/><stop offset="0.0760" stop-color="#2800d7"/><stop offset="0.0804" stop-color="#2b00d4"/><stop offset="0.0850" stop-color="#2d00d2"/><stop offset="0.0897" stop-color="#3000cf"/><stop offset="0.0945" stop-color="#3300cc"/><stop offset="0.0995" stop-color="#3600c9"/><stop offset="0.1046" stop-color="#3800c7"/><stop offset="0.1098" stop-color="#3b00c4"/><stop offset="0.1152" stop-color="#3e00c1"/><stop offset="0.1208" stop-color="#4100be"/><stop offset="0.1265" stop-color="#4300bc"/><stop offset="0.1323" stop-color="#4600b9"/><stop offset="0.1383" stop-color="#4900b6"/><stop offset="0.1445" stop-color="#4c00b3"/><stop offset="0.1509" stop-color="#4f00b0"/><stop offset="0.1574" stop-color="#5200ad"/><stop offset="0.1641" stop-color="#5400ab"/><stop offset="0.1710" stop-color="#5700a8"/><stop offset="0.1780" stop-color="#5a00a5"/><stop offset="0.1853" stop-color="#5d00a2"/><stop offset="0.1927" stop-color="#60009f"/><stop offset="0.2004" stop-color="#63009c"/><stop offset="0.2082" stop-color="#660099"/><stop offset="0.2162" stop-color="#680097"/><stop offset="0.2245" stop-color="#6b0094"/><stop offset="0.2330" stop-color="#6e0091"/><stop offset="0.2416" stop-color="#71008e"/><stop offset="0.2505" stop-color="#74008b"/><stop offset="0.2597" stop-color="#770088"/><stop offset="0.2690" stop-color="#7a0085"/><stop offset="0.2786" stop-color="#7d0082"/><stop offset="0.2884" stop-color="#80007f"/><stop offset="0.2985" stop-color="#83007c"/><stop offset="0.3088" stop-color="#860079"/><stop offset="0.3193" stop-color="#890076"/><stop offset="0.3301" stop-color="#8c0073"/><stop offset="0.3412" stop-color="#8f0070"/><stop offset="0.3525" stop-color="#92006d"/><stop offset="0.3640" stop-color="#95006a"/><stop offset="0.3759" stop-color="#980067"/><stop offset="0.3880" stop-color="#9b0064"/><stop offset="0.4003" stop-color="#9e0061"/><stop offset="0.4130" stop-color="#a1005e"/><stop offset="0.4259" stop-color="#a4005b"/><stop offset="0.4390" stop-color="#a70058"/><stop offset="0.4525" stop-color="#aa0055"/><stop offset="0.4663" stop-color="#ad0052"/><stop offset="0.4803" stop-color="#b1004e"/><stop offset="0.4946" stop-color="#b4004b"/><stop offset="0.5092" stop-color="#b70048"/><stop offset="0.5240" stop-color="#ba0045"/><stop offset="0.5392" stop-color="#bd0042"/><stop offset="0.5546" stop-color="#c0003f"/><stop offset="0.5703" stop-color="#c3003c"/><stop offset="0.5863" stop-color="#c60039"/><stop offset="0.6026" stop-color="#ca0035"/><stop offset="0.6192" stop-color="#cd0032"/><stop offset="0.6360" stop-color="#d0002f"/><stop offset="0.6531" stop-color="#d3002c"/><stop offset="0.6704" stop-color="#d60029"/><stop offset="0.6881" stop-color="#da0025"/><stop offset="0.7059" stop-color="#dd0022"/><stop offset="0.7241" stop-color="#e0001f"/><stop offset="0.7425" stop-color="#e3001c"/><stop offset="0.7611" stop-color="#e60019"/><stop offset="0.7800" stop-color="#ea0015"/><stop offset="0.7990" stop-color="#ed0012"/><stop offset="0.8183" stop-color="#f0000f"/><stop offset="0.8378" stop-color="#f3000c"/><stop offset="0.8575" stop-color="#f70008"/><stop offset="0.8774" stop-color="#fa0005"/><stop offset="0.8975" stop-color="#fd0002"/><stop offset="0.9076" stop-color="#ff0000"/><stop offset="0.9177" stop-color="#ff0000"/><stop offset="0.9381" stop-color="#ff0000"/><stop offset="0.9586" stop-color="#ff0000"/><stop offset="0.9793" stop-color="#ff0000"/><stop offset="1.0000" stop-color="#ff0000"/></linearGradient><linearGradient id="g7" gradientUnits="userSpaceOnUse" x1="0" y1="101.60" x2="0" y2="662.90"><stop offset="0.0000" stop-color="#0000ff"/><stop offset="0.0024" stop-color="#0000ff"/><stop offset="0.0048" stop-color="#0000ff"/><stop offset="0.0073" stop-color="#0000ff"/><stop offset="0.0098" stop-color="#0000ff"/><stop offset="0.0125" stop-color="#0000ff"/><stop offset="0.0152" stop-color="#0000ff"/><stop offset="0.0180" stop-color="#0000ff"/><stop offset="0.0209" stop-color="#0000ff"/><stop offset="0.0239" stop-color="#0000ff"/><stop offset="0.0269" stop-color="#0300fc"/><stop offset="0.0300" stop-color="#0500fa"/><stop offset="0.0333" stop-color="#0800f7"/><stop offset="0.0366" stop-color="#0a00f5"/><stop offset="0.0400" stop-color="#0d00f2"/><stop offset="0.0435" stop-color="#1000ef"/><stop offset="0.0471" stop-color="#1200ed"/><stop offset="0.0509" stop-color="#1500ea"/><stop offset="0.0547" stop-color="#1800e7"/><stop offset="0.0586" stop-color="#1a00e5"/><stop offset="0.0627" stop-color="#1d00e2"/><stop offset="0.0668" stop-color="#2000df"/><stop offset="0.0711" stop-color="#2200dd"/><stop offset="0.0755" stop-color="#2500da"/><stop offset="0.0800" stop-color="#2800d7"/><stop offset="0.0846" stop-color="#2b00d4"/><stop offset="0.0894" stop-color="#2d00d2"/><stop offset="0.0943" stop-color="#3000cf"/><stop offset="0.0993" stop-color="#3300cc"/><stop offset="0.1045" stop-color="#3600c9"/><stop offset="0.1098" stop-color="#3800c7"/><stop offset="0.1153" stop-color="#3b00c4"/><stop offset="0.1209" stop-color="#3e00c1"/><stop offset="0.1266" stop-color="#4100be"/><stop offset="0.1325" stop-color="#4300bc"/><stop offset="0.1386" stop-color="#4600b9"/><stop offset="0.1448" stop-color="#4900b6"/><stop offset="0.1512" stop-color="#4c00b3"/><stop offset="0.1578" stop-color="#4f00b0"/><stop offset="0.1646" stop-color="#5200ad"/><stop offset="0.1715" stop-color="#5400ab"/><stop offset="0.1786" stop-color="#5700a8"/><stop offset="0.1858" stop-color="#5a00a5"/><stop offset="0.1933" stop-color="#5d00a2"/><stop offset="0.2010" stop-color="#60009f"/><stop offset="0.2088" stop-color="#63009c"/><stop offset="0.2169" stop-color="#660099"/><stop offset="0.2251" stop-color="#680097"/><stop offset="0.2336" stop-color="#6b0094"/><stop offset="0.2423" stop-color="#6e0091"/><stop offset="0.2511" stop-color="#71008e"/><stop offset="0.2602" stop-color="#74008b"/><stop offset="0.2696" stop-color="#770088"/><stop offset="0.2791" stop-color="#7a0085"/><stop offset="0.2889" stop-color="#7d0082"/><stop offset="0.2989" stop-color="#80007f"/><stop offset="0.3091" stop-color="#83007c"/><stop offset="0.3196" stop-color="#860079"/><stop offset="0.3303" stop-color="#890076"/><stop offset="0.3412" stop-color="#8c0073"/><stop offset="0.3524" stop-color="#8f0070"/><stop offset="0.3638" stop-color="#92006d"/><stop offset="0.3755" stop-color="#95006a"/><stop offset="0.3875" stop-color="#980067"/><stop offset="0.3997" stop-color="#9b0064"/><stop offset="0.4121" stop-color="#9e0061"/><stop offset="0.4249" stop-color="#a1005e"/><stop offset="0.4378" stop-color="#a4005b"/><stop offset="0.4511" stop-color="#a70058"/><stop offset="0.4646" stop-color="#aa0055"/><stop offset="0.4783" stop-color="#ad0052"/><stop offset="0.4923" stop-color="#b1004e"/><stop offset="0.5066" stop-color="#b4004b"/><stop offset="0.5212" stop-color="#b70048"/><stop offset="0.5360" stop-color="#ba0045"/><stop offset="0.5511" stop-color="#bd0042"/><stop offset="0.5664" stop-color="#c0003f"/><stop offset="0.5820" stop-color="#c3003c"/><stop offset="0.5978" stop-color="#c60039"/><stop offset="0.6139" stop-color="#ca0035"/><stop offset="0.6303" stop-color="#cd0032"/><stop offset="0.6469" stop-color="#d0002f"/><stop offset="0.6637" stop-color="#d3002c"/><stop offset="0.6808" stop-color="#d60029"/><stop offset="0.6981" stop-color="#da0025"/><stop offset="0.7157" stop-color="#dd0022"/><stop offset="0.7334" stop-color="#e0001f"/><stop offset="0.7514" stop-color="#e3001c"/><stop offset="0.7696" stop-color="#e60019"/><stop offset="0.7879" stop-color="#ea0015"/><stop offset="0.8065" stop-color="#ed0012"/><stop offset="0.8252" stop-color="#f0000f"/><stop offset="0.8442" stop-color="#f3000c"/><stop offset="0.8632" stop-color="#f70008"/><stop offset="0.8824" stop-color="#fa0005"/><stop offset="0.9018" stop-color="#fd0002"/><stop offset="0.9115" stop-color="#ff0000"/><stop offset="0.9212" stop-color="#ff0000"/><stop offset="0.9408" stop-color="#ff0000"/><stop offset="0.9605" stop-color="#ff0000"/><stop offset="0.9802" stop-color="#ff0000"/><stop offset="1.0000" stop-color="#ff0000"/></linearGradient><linearGradient id="g8" gradientUnits="userSpaceOnUse" x1="0" y1="111.70" x2="0" y2="720.20"><stop offset="0.0000" stop-color="#0000ff"/><stop offset="0.0026" stop-color="#0000ff"/><stop offset="0.0053" stop-color="#0000ff"/><stop offset="0.0080" stop-color="#0000ff"/><stop offset="0.0109" stop-color="#0000ff"/><stop offset="0.0138" stop-color="#0000ff"/><stop offset="0.0168" stop-color="#0000ff"/><stop offset="0.0199" stop-color="#0000ff"/><stop offset="0.0230" stop-color="#0000ff"/><stop offset="0.0263" stop-color="#0000ff"/><stop offset="0.0296" stop-color="#0300fc"/><stop offset="0.0331" stop-color="#0500fa"/><stop offset="0.0366" stop-color="#0800f7"/><stop offset="0.0403" stop-color="#0a00f5"/><stop offset="0.0440" stop-color="#0d00f2"/><stop offset="0.0478" stop-color="#1000ef"/><stop offset="0.0518" stop-color="#1200ed"/><stop offset="0.0558" stop-color="#1500ea"/><stop offset="0.0600" stop-color="#1800e7"/><stop offset="0.0643" stop-color="#1a00e5"/><stop offset="0.0687" stop-color="#1d00e2"/><stop offset="0.0732" stop-color="#2000df"/><stop offset="0.0778" stop-color="#2200dd"/><stop offset="0.0825" stop-color="#2500da"/><stop offset="0.0874" stop-color="#2800d7"/><stop offset="0.0924" stop-color="#2b00d4"/><stop offset="0.0976" stop-color="#2d00d2"/><stop offset="0.1029" stop-color="#3000cf"/><stop offset="0.1083" stop-color="#3300cc"/><stop offset="0.1139" stop-color="#3600c9"/><stop offset="0.1196" stop-color="#3800c7"/><stop offset="0.1254" stop-color="#3b00c4"/><stop offset="0.1314" stop-color="#3e00c1"/><stop offset="0.1376" stop-color="#4100be"/><stop offset="0.1439" stop-color="#4300bc"/><stop offset="0.1504" stop-color="#4600b9"/><stop offset="0.1571" stop-color="#4900b6"/><stop offset="0.1639" stop-color="#4c00b3"/><stop offset="0.1709" stop-color="#4f00b0"/><stop offset="0.1780" stop-color="#5200ad"/><stop offset="0.1853" stop-color="#5400ab"/><stop offset="0.1929" stop-color="#5700a8"/><stop offset="0.2006" stop-color="#5a00a5"/><stop offset="0.2085" stop-color="#5d00a2"/><stop offset="0.2165" stop-color="#60009f"/><stop offset="0.2248" stop-color="#63009c"/><stop offset="0.2333" stop-color="#660099"/><stop offset="0.2419" stop-color="#680097"/><stop offset="0.2508" stop-color="#6b0094"/><stop offset="0.2599" stop-color="#6e0091"/><stop offset="0.2691" stop-color="#71008e"/><stop offset="0.2786" stop-color="#74008b"/><stop offset="0.2883" stop-color="#770088"/><stop offset="0.2983" stop-color="#7a0085"/><stop offset="0.3084" stop-color="#7d0082"/><stop offset="0.3187" stop-color="#80007f"/><stop offset="0.3293" stop-color="#83007c"/><stop offset="0.3401" stop-color="#860079"/><stop offset="0.3511" stop-color="#890076"/><stop offset="0.3624" stop-color="#8c0073"/><stop offset="0.3739" stop-color="#8f0070"/><stop offset="0.3856" stop-color="#92006d"/><stop offset="0.3976" stop-color="#95006a"/><stop offset="0.4097" stop-color="#980067"/><stop offset="0.4221" stop-color="#9b0064"/><stop offset="0.4348" stop-color="#9e0061"/><stop offset="0.4477" stop-color="#a1005e"/><stop offset="0.4608" stop-color="#a4005b"/><stop offset="0.4741" stop-color="#a70058"/><stop offset="0.4877" stop-color="#aa0055"/><stop offset="0.5015" stop-color="#ad0052"/><stop offset="0.5156" stop-color="#b1004e"/><stop offset="0.5299" stop-color="#b4004b"/><stop offset="0.5443" stop-color="#b70048"/><stop offset="0.5591" stop-color="#ba0045"/><stop offset="0.5740" stop-color="#bd0042"/><stop offset="0.5892" stop-color="#c0003f"/><stop offset="0.6045" stop-color="#c3003c"/><stop offset="0.6201" stop-color="#c60039"/><stop offset="0.6359" stop-color="#ca0035"/><stop offset="0.6519" stop-color="#cd0032"/><stop offset="0.6681" stop-color="#d0002f"/><stop offset="0.6844" stop-color="#d3002c"/><stop offset="0.7010" stop-color="#d60029"/><stop offset="0.7177" stop-color="#da0025"/><stop offset="0.7345" stop-color="#dd0022"/><stop offset="0.7516" stop-color="#e0001f"/><stop offset="0.7687" stop-color="#e3001c"/><stop offset="0.7861" stop-color="#e60019"/><stop offset="0.8035" stop-color="#ea0015"/><stop offset="0.8210" stop-color="#ed0012"/><stop offset="0.8387" stop-color="#f0000f"/><stop offset="0.8564" stop-color="#f3000c"/><stop offset="0.8743" stop-color="#f70008"/><stop offset="0.8921" stop-color="#fa0005"/><stop offset="0.9101" stop-color="#fd0002"/><stop offset="0.9191" stop-color="#ff0000"/><stop offset="0.9280" stop-color="#ff0000"/><stop offset="0.9460" stop-color="#ff0000"/><stop offset="0.9640" stop-color="#ff0000"/><stop offset="0.9820" stop-color="#ff0000"/><stop offset="1.0000" stop-color="#ff0000"/></linearGradient><linearGradient id="g9" gradientUnits="userSpaceOnUse" x1="0" y1="131.20" x2="0" y2="800.70"><stop offset="0.0000" stop-color="#0000ff"/><stop offset="0.0031" stop-color="#0000ff"/><stop offset="0.0063" stop-color="#0000ff"/><stop offset="0.0095" stop-color="#0000ff"/><stop offset="0.0128" stop-color="#0000ff"/><stop offset="0.0163" stop-color="#0000ff"/><stop offset="0.0198" stop-color="#0000ff"/><stop offset="0.0234" stop-color="#0000ff"/><stop offset="0.0271" stop-color="#0000ff"/><stop offset="0.0309" stop-color="#0000ff"/><stop offset="0.0348" stop-color="#0300fc"/><stop offset="0.0388" stop-color="#0500fa"/><stop offset="0.0429" stop-color="#0800f7"/><stop offset="0.0472" stop-color="#0a00f5"/><stop offset="0.0515" stop-color="#0d00f2"/><stop offset="0.0559" stop-color="#1000ef"/><stop offset="0.0605" stop-color="#1200ed"/><stop offset="0.0651" stop-color="#1500ea"/><stop offset="0.0699" stop-color="#1800e7"/><stop offset="0.0748" stop-color="#1a00e5"/><stop offset="0.0799" stop-color="#1d00e2"/><stop offset="0.0850" stop-color="#2000df"/><stop offset="0.0903" stop-color="#2200dd"/><stop offset="0.0957" stop-color="#2500da"/><stop offset="0.1013" stop-color="#2800d7"/><stop offset="0.1070" stop-color="#2b00d4"/><stop offset="0.1128" stop-color="#2d00d2"/><stop offset="0.1188" stop-color="#3000cf"/><stop offset="0.1249" stop-color="#3300cc"/><stop offset="0.1312" stop-color="#3600c9"/><stop offset="0.1376" stop-color="#3800c7"/><stop offset="0.1442" stop-color="#3b00c4"/><stop offset="0.1509" stop-color="#3e00c1"/><stop offset="0.1578" stop-color="#4100be"/><stop offset="0.1648" stop-color="#4300bc"/><stop offset="0.1720" stop-color="#4600b9"/><stop offset="0.1794" stop-color="#4900b6"/><stop offset="0.1869" stop-color="#4c00b3"/><stop offset="0.1947" stop-color="#4f00b0"/><stop offset="0.2025" stop-color="#5200ad"/><stop offset="0.2106" stop-color="#5400ab"/><stop offset="0.2188" stop-color="#5700a8"/><stop offset="0.2273" stop-color="#5a00a5"/><stop offset="0.2359" stop-color="#5d00a2"/><stop offset="0.2447" stop-color="#60009f"/><stop offset="0.2536" stop-color="#63009c"/><stop offset="0.2628" stop-color="#660099"/><stop offset="0.2721" stop-color="#680097"/><stop offset="0.2817" stop-color="#6b0094"/><stop offset="0.2914" stop-color="#6e0091"/><stop offset="0.3013" stop-color="#71008e"/><stop offset="0.3115" stop-color="#74008b"/><stop offset="0.3218" stop-color="#770088"/><stop offset="0.3323" stop-color="#7a0085"/><stop offset="0.3430" stop-color="#7d0082"/><stop offset="0.3539" stop-color="#80007f"/><stop offset="0.3650" stop-color="#83007c"/><stop offset="0.3764" stop-color="#860079"/><stop offset="0.3879" stop-color="#890076"/><stop offset="0.3996" stop-color="#8c0073"/><stop offset="0.4115" stop-color="#8f0070"/><stop offset="0.4236" stop-color="#92006d"/><stop offset="0.4359" stop-color="#95006a"/><stop offset="0.4484" stop-color="#980067"/><stop offset="0.4611" stop-color="#9b0064"/><stop offset="0.4740" stop-color="#9e0061"/><stop offset="0.4870" stop-color="#a1005e"/><stop offset="0.5003" stop-color="#a4005b"/><stop offset="0.5137" stop-color="#a70058"/><stop offset="0.5274" stop-color="#aa0055"/><stop offset="0.5412" stop-color="#ad0052"/><stop offset="0.5551" stop-color="#b1004e"/><stop offset="0.5693" stop-color="#b4004b"/><stop offset="0.5835" stop-color="#b70048"/><stop offset="0.5980" stop-color="#ba0045"/><stop offset="0.6126" stop-color="#bd0042"/><stop offset="0.6273" stop-color="#c0003f"/><stop offset="0.6422" stop-color="#c3003c"/><stop offset="0.6572" stop-color="#c60039"/><stop offset="0.6724" stop-color="#ca0035"/><stop offset="0.6876" stop-color="#cd0032"/><stop offset="0.7030" stop-color="#d0002f"/><stop offset="0.7184" stop-color="#d3002c"/><stop offset="0.7340" stop-color="#d60029"/><stop offset="0.7496" stop-color="#da0025"/><stop offset="0.7653" stop-color="#dd0022"/><stop offset="0.7810" stop-color="#e0001f"/><stop offset="0.7968" stop-color="#e3001c"/><stop offset="0.8126" stop-color="#e60019"/><stop offset="0.8284" stop-color="#ea0015"/><stop offset="0.8443" stop-color="#ed0012"/><stop offset="0.8601" stop-color="#f0000f"/><stop offset="0.8759" stop-color="#f3000c"/><stop offset="0.8917" stop-color="#f70008"/><stop offset="0.9074" stop-color="#fa0005"/><stop offset="0.9231" stop-color="#fd0002"/><stop offset="0.9309" stop-color="#ff0000"/><stop offset="0.9387" stop-color="#ff0000"/><stop offset="0.9542" stop-color="#ff0000"/><stop offset="0.9696" stop-color="#ff0000"/><stop offset="0.9849" stop-color="#ff0000"/><stop offset="1.0000" stop-color="#ff0000"/></linearGradient><linearGradient id="g10" gradientUnits="userSpaceOnUse" x1="0" y1="143.30" x2="0" y2="837.30"><stop offset="0.0000" stop-color="#0000ff"/><stop offset="0.0034" stop-color="#0000ff"/><stop offset="0.0068" stop-color="#0000ff"/><stop offset="0.0104" stop-color="#0000ff"/><stop offset="0.0140" stop-color="#0000ff"/><stop offset="0.0178" stop-color="#0000ff"/><stop offset="0.0216" stop-color="#0000ff"/><stop offset="0.0256" stop-color="#0000ff"/><stop offset="0.0296" stop-color="#0000ff"/><stop offset="0.0337" stop-color="#0000ff"/><stop offset="0.0380" stop-color="#0300fc"/><stop offset="0.0423" stop-color="#0500fa"/><stop offset="0.0468" stop-color="#0800f7"/><stop offset="0.0513" stop-color="#0a00f5"/><stop offset="0.0560" stop-color="#0d00f2"/><stop offset="0.0608" stop-color="#1000ef"/><stop offset="0.0657" stop-color="#1200ed"/><stop offset="0.0708" stop-color="#1500ea"/><stop offset="0.0759" stop-color="#1800e7"/><stop offset="0.0812" stop-color="#1a00e5"/><stop offset="0.0866" stop-color="#1d00e2"/><stop offset="0.0922" stop-color="#2000df"/><stop offset="0.0979" stop-color="#2200dd"/><stop offset="0.1037" stop-color="#2500da"/><stop offset="0.1096" stop-color="#2800d7"/><stop offset="0.1157" stop-color="#2b00d4"/><stop offset="0.1219" stop-color="#2d00d2"/><stop offset="0.1283" stop-color="#3000cf"/><stop offset="0.1348" stop-color="#3300cc"/><stop offset="0.1415" stop-color="#3600c9"/><stop offset="0.1483" stop-color="#3800c7"/><stop offset="0.1553" stop-color="#3b00c4"/><stop offset="0.1624" stop-color="#3e00c1"/><stop offset="0.1697" stop-color="#4100be"/><stop offset="0.1772" stop-color="#4300bc"/><stop offset="0.1848" stop-color="#4600b9"/><stop offset="0.1926" stop-color="#4900b6"/><stop offset="0.2005" stop-color="#4c00b3"/><stop offset="0.2087" stop-color="#4f00b0"/><stop offset="0.2170" stop-color="#5200ad"/><stop offset="0.2254" stop-color="#5400ab"/><stop offset="0.2341" stop-color="#5700a8"/><stop offset="0.2429" stop-color="#5a00a5"/><stop offset="0.2519" stop-color="#5d00a2"/><stop offset="0.2610" stop-color="#60009f"/><stop offset="0.2704" stop-color="#63009c"/><stop offset="0.2799" stop-color="#660099"/><stop offset="0.2896" stop-color="#680097"/><stop offset="0.2995" stop-color="#6b0094"/><stop offset="0.3096" stop-color="#6e0091"/><stop offset="0.3199" stop-color="#71008e"/><stop offset="0.3303" stop-color="#74008b"/><stop offset="0.3410" stop-color="#770088"/><stop offset="0.3518" stop-color="#7a0085"/><stop offset="0.3628" stop-color="#7d0082"/><stop offset="0.3740" stop-color="#80007f"/><stop offset="0.3854" stop-color="#83007c"/><stop offset="0.3969" stop-color="#860079"/><stop offset="0.4087" stop-color="#890076"/><stop offset="0.4206" stop-color="#8c0073"/><stop offset="0.4327" stop-color="#8f0070"/><stop offset="0.4450" stop-color="#92006d"/><stop offset="0.4574" stop-color="#95006a"/><stop offset="0.4700" stop-color="#980067"/><stop offset="0.4828" stop-color="#9b0064"/><stop offset="0.4958" stop-color="#9e0061"/><stop offset="0.5089" stop-color="#a1005e"/><stop offset="0.5222" stop-color="#a4005b"/><stop offset="0.5356" stop-color="#a70058"/><stop offset="0.5492" stop-color="#aa0055"/><stop offset="0.5629" stop-color="#ad0052"/><stop offset="0.5768" stop-color="#b1004e"/><stop offset="0.5908" stop-color="#b4004b"/><stop offset="0.6049" stop-color="#b70048"/><stop offset="0.6192" stop-color="#ba0045"/><stop offset="0.6335" stop-color="#bd0042"/><stop offset="0.6480" stop-color="#c0003f"/><stop offset="0.6625" stop-color="#c3003c"/><stop offset="0.6772" stop-color="#c60039"/><stop offset="0.6919" stop-color="#ca0035"/><stop offset="0.7067" stop-color="#cd0032"/><stop offset="0.7216" stop-color="#d0002f"/><stop offset="0.7365" stop-color="#d3002c"/><stop offset="0.7514" stop-color="#d60029"/><stop offset="0.7664" stop-color="#da0025"/><stop offset="0.7814" stop-color="#dd0022"/><stop offset="0.7964" stop-color="#e0001f"/><stop offset="0.8114" stop-color="#e3001c"/><stop offset="0.8264" stop-color="#e60019"/><stop offset="0.8413" stop-color="#ea0015"/><stop offset="0.8562" stop-color="#ed0012"/><stop offset="0.8711" stop-color="#f0000f"/><stop offset="0.8859" stop-color="#f3000c"/><stop offset="0.9006" stop-color="#f70008"/><stop offset="0.9152" stop-color="#fa0005"/><stop offset="0.9297" stop-color="#fd0002"/><stop offset="0.9369" stop-color="#ff0000"/><stop offset="0.9440" stop-color="#ff0000"/><stop offset="0.9583" stop-color="#ff0000"/><stop offset="0.9723" stop-color="#ff0000"/><stop offset="0.9863" stop-color="#ff0000"/><stop offset="1.0000" stop-color="#ff0000"/></linearGradient><linearGradient id="g11" gradientUnits="userSpaceOnUse" x1="0" y1="154.70" x2="0" y2="866.40"><stop offset="0.0000" stop-color="#0000ff"/><stop offset="0.0037" stop-color="#0000ff"/><stop offset="0.0074" stop-color="#0000ff"/><stop offset="0.0112" stop-color="#0000ff"/><stop offset="0.0152" stop-color="#0000ff"/><stop offset="0.0192" stop-color="#0000ff"/><stop offset="0.0233" stop-color="#0000ff"/><stop offset="0.0276" stop-color="#0000ff"/><stop offset="0.0319" stop-color="#0000ff"/><stop offset="0.0363" stop-color="#0000ff"/><stop offset="0.0409" stop-color="#0300fc"/><stop offset="0.0456" stop-color="#0500fa"/><stop offset="0.0503" stop-color="#0800f7"/><stop offset="0.0552" stop-color="#0a00f5"/><stop offset="0.0602" stop-color="#0d00f2"/><stop offset="0.0654" stop-color="#1000ef"/><stop offset="0.0706" stop-color="#1200ed"/><stop offset="0.0760" stop-color="#1500ea"/><stop offset="0.0815" stop-color="#1800e7"/><stop offset="0.0871" stop-color="#1a00e5"/><stop offset="0.0929" stop-color="#1d00e2"/><stop offset="0.0988" stop-color="#2000df"/><stop offset="0.1048" stop-color="#2200dd"/><stop offset="0.1110" stop-color="#2500da"/><stop offset="0.1173" stop-color="#2800d7"/><stop offset="0.1237" stop-color="#2b00d4"/><stop offset="0.1303" stop-color="#2d00d2"/><stop offset="0.1371" stop-color="#3000cf"/><stop offset="0.1440" stop-color="#3300cc"/><stop offset="0.1510" stop-color="#3600c9"/><stop offset="0.1582" stop-color="#3800c7"/><stop offset="0.1655" stop-color="#3b00c4"/><stop offset="0.1730" stop-color="#3e00c1"/><stop offset="0.1807" stop-color="#4100be"/><stop offset="0.1885" stop-color="#4300bc"/><stop offset="0.1965" stop-color="#4600b9"/><stop offset="0.2047" stop-color="#4900b6"/><stop offset="0.2130" stop-color="#4c00b3"/><stop offset="0.2214" stop-color="#4f00b0"/><stop offset="0.2301" stop-color="#5200ad"/><stop offset="0.2389" stop-color="#5400ab"/><stop offset="0.2479" stop-color="#5700a8"/><stop offset="0.2571" stop-color="#5a00a5"/><stop offset="0.2664" stop-color="#5d00a2"/><stop offset="0.2759" stop-color="#60009f"/><stop offset="0.2856" stop-color="#63009c"/><stop offset="0.2954" stop-color="#660099"/><stop offset="0.3055" stop-color="#680097"/><stop offset="0.3157" stop-color="#6b0094"/><stop offset="0.3261" stop-color="#6e0091"/><stop offset="0.3366" stop-color="#71008e"/><stop offset="0.3473" stop-color="#74008b"/><stop offset="0.3583" stop-color="#770088"/><stop offset="0.3693" stop-color="#7a0085"/><stop offset="0.3806" stop-color="#7d0082"/><stop offset="0.3920" stop-color="#80007f"/><stop offset="0.4036" stop-color="#83007c"/><stop offset="0.4154" stop-color="#860079"/><stop offset="0.4273" stop-color="#890076"/><stop offset="0.4394" stop-color="#8c0073"/><stop offset="0.4516" stop-color="#8f0070"/><stop offset="0.4640" stop-color="#92006d"/><stop offset="0.4766" stop-color="#95006a"/><stop offset="0.4893" stop-color="#980067"/><stop offset="0.5022" stop-color="#9b0064"/><stop offset="0.5152" stop-color="#9e0061"/><stop offset="0.5283" stop-color="#a1005e"/><stop offset="0.5416" stop-color="#a4005b"/><stop offset="0.5550" stop-color="#a70058"/><stop offset="0.5685" stop-color="#aa0055"/><stop offset="0.5821" stop-color="#ad0052"/><stop offset="0.5959" stop-color="#b1004e"/><stop offset="0.6097" stop-color="#b4004b"/><stop offset="0.6237" stop-color="#b70048"/><stop offset="0.6377" stop-color="#ba0045"/><stop offset="0.6518" stop-color="#bd0042"/><stop offset="0.6660" stop-color="#c0003f"/><stop offset="0.6802" stop-color="#c3003c"/><stop offset="0.6945" stop-color="#c60039"/><stop offset="0.7089" stop-color="#ca0035"/><stop offset="0.7232" stop-color="#cd0032"/><stop offset="0.7376" stop-color="#d0002f"/><stop offset="0.7520" stop-color="#d3002c"/><stop offset="0.7665" stop-color="#d60029"/><stop offset="0.7809" stop-color="#da0025"/><stop offset="0.7952" stop-color="#dd0022"/><stop offset="0.8096" stop-color="#e0001f"/><stop offset="0.8239" stop-color="#e3001c"/><stop offset="0.8381" stop-color="#e60019"/><stop offset="0.8523" stop-color="#ea0015"/><stop offset="0.8664" stop-color="#ed0012"/><stop offset="0.8804" stop-color="#f0000f"/><stop offset="0.8943" stop-color="#f3000c"/><stop offset="0.9081" stop-color="#f70008"/><stop offset="0.9217" stop-color="#fa0005"/><stop offset="0.9352" stop-color="#fd0002"/><stop offset="0.9419" stop-color="#ff0000"/><stop offset="0.9485" stop-color="#ff0000"/><stop offset="0.9617" stop-color="#ff0000"/><stop offset="0.9747" stop-color="#ff0000"/><stop offset="0.9874" stop-color="#ff0000"/><stop offset="1.0000" stop-color="#ff0000"/></linearGradient><linearGradient id="g12" gradientUnits="userSpaceOnUse" x1="0" y1="175.80" x2="0" y2="907.80"><stop offset="0.0000" stop-color="#0000ff"/><stop offset="0.0042" stop-color="#0000ff"/><stop offset="0.0084" stop-color="#0000ff"/><stop offset="0.0128" stop-color="#0000ff"/><stop offset="0.0172" stop-color="#0000ff"/><stop offset="0.0218" stop-color="#0000ff"/><stop offset="0.0265" stop-color="#0000ff"/><stop offset="0.0312" stop-color="#0000ff"/><stop offset="0.0361" stop-color="#0000ff"/><stop offset="0.0411" stop-color="#0000ff"/><stop offset="0.0463" stop-color="#0300fc"/><stop offset="0.0515" stop-color="#0500fa"/><stop offset="0.0569" stop-color="#0800f7"/><stop offset="0.0623" stop-color="#0a00f5"/><stop offset="0.0679" stop-color="#0d00f2"/><stop offset="0.0737" stop-color="#1000ef"/><stop offset="0.0795" stop-color="#1200ed"/><stop offset="0.0855" stop-color="#1500ea"/><stop offset="0.0916" stop-color="#1800e7"/><stop offset="0.0978" stop-color="#1a00e5"/><stop offset="0.1042" stop-color="#1d00e2"/><stop offset="0.1107" stop-color="#2000df"/><stop offset="0.1174" stop-color="#2200dd"/><stop offset="0.1242" stop-color="#2500da"/><stop offset="0.1311" stop-color="#2800d7"/><stop offset="0.1382" stop-color="#2b00d4"/><stop offset="0.1455" stop-color="#2d00d2"/><stop offset="0.1528" stop-color="#3000cf"/><stop offset="0.1604" stop-color="#3300cc"/><stop offset="0.1680" stop-color="#3600c9"/><stop offset="0.1759" stop-color="#3800c7"/><stop offset="0.1839" stop-color="#3b00c4"/><stop offset="0.1920" stop-color="#3e00c1"/><stop offset="0.2003" stop-color="#4100be"/><stop offset="0.2087" stop-color="#4300bc"/><stop offset="0.2174" stop-color="#4600b9"/><stop offset="0.2261" stop-color="#4900b6"/><stop offset="0.2350" stop-color="#4c00b3"/><stop offset="0.2441" stop-color="#4f00b0"/><stop offset="0.2534" stop-color="#5200ad"/><stop offset="0.2628" stop-color="#5400ab"/><stop offset="0.2724" stop-color="#5700a8"/><stop offset="0.2821" stop-color="#5a00a5"/><stop offset="0.2920" stop-color="#5d00a2"/><stop offset="0.3021" stop-color="#60009f"/><stop offset="0.3123" stop-color="#63009c"/><stop offset="0.3227" stop-color="#660099"/><stop offset="0.3332" stop-color="#680097"/><stop offset="0.3439" stop-color="#6b0094"/><stop offset="0.3548" stop-color="#6e0091"/><stop offset="0.3658" stop-color="#71008e"/><stop offset="0.3769" stop-color="#74008b"/><stop offset="0.3883" stop-color="#770088"/><stop offset="0.3997" stop-color="#7a0085"/><stop offset="0.4114" stop-color="#7d0082"/><stop offset="0.4231" stop-color="#80007f"/><stop offset="0.4350" stop-color="#83007c"/><stop offset="0.4471" stop-color="#860079"/><stop offset="0.4592" stop-color="#890076"/><stop offset="0.4716" stop-color="#8c0073"/><stop offset="0.4840" stop-color="#8f0070"/><stop offset="0.4966" stop-color="#92006d"/><stop offset="0.5092" stop-color="#95006a"/><stop offset="0.5220" stop-color="#980067"/><stop offset="0.5349" stop-color="#9b0064"/><stop offset="0.5479" stop-color="#9e0061"/><stop offset="0.5610" stop-color="#a1005e"/><stop offset="0.5742" stop-color="#a4005b"/><stop offset="0.5875" stop-color="#a70058"/><stop offset="0.6008" stop-color="#aa0055"/><stop offset="0.6142" stop-color="#ad0052"/><stop offset="0.6277" stop-color="#b1004e"/><stop offset="0.6412" stop-color="#b4004b"/><stop offset="0.6548" stop-color="#b70048"/><stop offset="0.6684" stop-color="#ba0045"/><stop offset="0.6820" stop-color="#bd0042"/><stop offset="0.6957" stop-color="#c0003f"/><stop offset="0.7093" stop-color="#c3003c"/><stop offset="0.7230" stop-color="#c60039"/><stop offset="0.7366" stop-color="#ca0035"/><stop offset="0.7502" stop-color="#cd0032"/><stop offset="0.7638" stop-color="#d0002f"/><stop offset="0.7773" stop-color="#d3002c"/><stop offset="0.7908" stop-color="#d60029"/><stop offset="0.8042" stop-color="#da0025"/><stop offset="0.8175" stop-color="#dd0022"/><stop offset="0.8307" stop-color="#e0001f"/><stop offset="0.8439" stop-color="#e3001c"/><stop offset="0.8569" stop-color="#e60019"/><stop offset="0.8698" stop-color="#ea0015"/><stop offset="0.8825" stop-color="#ed0012"/><stop offset="0.8951" stop-color="#f0000f"/><stop offset="0.9076" stop-color="#f3000c"/><stop offset="0.9198" stop-color="#f70008"/><stop offset="0.9319" stop-color="#fa0005"/><stop offset="0.9438" stop-color="#fd0002"/><stop offset="0.9497" stop-color="#ff0000"/><stop offset="0.9555" stop-color="#ff0000"/><stop offset="0.9670" stop-color="#ff0000"/><stop offset="0.9782" stop-color="#ff0000"/><stop offset="0.9892" stop-color="#ff0000"/><stop offset="1.0000" stop-color="#ff0000"/></linearGradient><linearGradient id="g13" gradientUnits="userSpaceOnUse" x1="0" y1="219.80" x2="0" y2="964.20"><stop offset="0.0000" stop-color="#0000ff"/><stop offset="0.0052" stop-color="#0000ff"/><stop offset="0.0105" stop-color="#0000ff"/><stop offset="0.0160" stop-color="#0000ff"/><stop offset="0.0215" stop-color="#0000ff"/><stop offset="0.0272" stop-color="#0000ff"/><stop offset="0.0330" stop-color="#0000ff"/><stop offset="0.0389" stop-color="#0000ff"/><stop offset="0.0449" stop-color="#0000ff"/><stop offset="0.0510" stop-color="#0000ff"/><stop offset="0.0573" stop-color="#0300fc"/><stop offset="0.0637" stop-color="#0500fa"/><stop offset="0.0702" stop-color="#0800f7"/><stop offset="0.0769" stop-color="#0a00f5"/><stop offset="0.0837" stop-color="#0d00f2"/><stop offset="0.0906" stop-color="#1000ef"/><stop offset="0.0977" stop-color="#1200ed"/><stop offset="0.1048" stop-color="#1500ea"/><stop offset="0.1122" stop-color="#1800e7"/><stop offset="0.1196" stop-color="#1a00e5"/><stop offset="0.1272" stop-color="#1d00e2"/><stop offset="0.1350" stop-color="#2000df"/><stop offset="0.1429" stop-color="#2200dd"/><stop offset="0.1509" stop-color="#2500da"/><stop offset="0.1590" stop-color="#2800d7"/><stop offset="0.1673" stop-color="#2b00d4"/><stop offset="0.1758" stop-color="#2d00d2"/><stop offset="0.1844" stop-color="#3000cf"/><stop offset="0.1931" stop-color="#3300cc"/><stop offset="0.2020" stop-color="#3600c9"/><stop offset="0.2110" stop-color="#3800c7"/><stop offset="0.2202" stop-color="#3b00c4"/><stop offset="0.2295" stop-color="#3e00c1"/><stop offset="0.2390" stop-color="#4100be"/><stop offset="0.2486" stop-color="#4300bc"/><stop offset="0.2584" stop-color="#4600b9"/><stop offset="0.2683" stop-color="#4900b6"/><stop offset="0.2783" stop-color="#4c00b3"/><stop offset="0.2885" stop-color="#4f00b0"/><stop offset="0.2988" stop-color="#5200ad"/><stop offset="0.3093" stop-color="#5400ab"/><stop offset="0.3199" stop-color="#5700a8"/><stop offset="0.3306" stop-color="#5a00a5"/><stop offset="0.3415" stop-color="#5d00a2"/><stop offset="0.3524" stop-color="#60009f"/><stop offset="0.3636" stop-color="#63009c"/><stop offset="0.3748" stop-color="#660099"/><stop offset="0.3862" stop-color="#680097"/><stop offset="0.3977" stop-color="#6b0094"/><stop offset="0.4093" stop-color="#6e0091"/><stop offset="0.4210" stop-color="#71008e"/><stop offset="0.4328" stop-color="#74008b"/><stop offset="0.4448" stop-color="#770088"/><stop offset="0.4568" stop-color="#7a0085"/><stop offset="0.4689" stop-color="#7d0082"/><stop offset="0.4812" stop-color="#80007f"/><stop offset="0.4935" stop-color="#83007c"/><stop offset="0.5059" stop-color="#860079"/><stop offset="0.5183" stop-color="#890076"/><stop offset="0.5308" stop-color="#8c0073"/><stop offset="0.5434" stop-color="#8f0070"/><stop offset="0.5561" stop-color="#92006d"/><stop offset="0.5688" stop-color="#95006a"/><stop offset="0.5815" stop-color="#980067"/><stop offset="0.5943" stop-color="#9b0064"/><stop offset="0.6070" stop-color="#9e0061"/><stop offset="0.6199" stop-color="#a1005e"/><stop offset="0.6327" stop-color="#a4005b"/><stop offset="0.6455" stop-color="#a70058"/><stop offset="0.6583" stop-color="#aa0055"/><stop offset="0.6711" stop-color="#ad0052"/><stop offset="0.6838" stop-color="#b1004e"/><stop offset="0.6966" stop-color="#b4004b"/><stop offset="0.7093" stop-color="#b70048"/><stop offset="0.7219" stop-color="#ba0045"/><stop offset="0.7345" stop-color="#bd0042"/><stop offset="0.7470" stop-color="#c0003f"/><stop offset="0.7594" stop-color="#c3003c"/><stop offset="0.7717" stop-color="#c60039"/><stop offset="0.7839" stop-color="#ca0035"/><stop offset="0.7960" stop-color="#cd0032"/><stop offset="0.8080" stop-color="#d0002f"/><stop offset="0.8198" stop-color="#d3002c"/><stop offset="0.8315" stop-color="#d60029"/><stop offset="0.8431" stop-color="#da0025"/><stop offset="0.8545" stop-color="#dd0022"/><stop offset="0.8657" stop-color="#e0001f"/><stop offset="0.8767" stop-color="#e3001c"/><stop offset="0.8876" stop-color="#e60019"/><stop offset="0.8982" stop-color="#ea0015"/><stop offset="0.9086" stop-color="#ed0012"/><stop offset="0.9189" stop-color="#f0000f"/><stop offset="0.9289" stop-color="#f3000c"/><stop offset="0.9386" stop-color="#f70008"/><stop offset="0.9482" stop-color="#fa0005"/><stop offset="0.9574" stop-color="#fd0002"/><stop offset="0.9620" stop-color="#ff0000"/><stop offset="0.9665" stop-color="#ff0000"/><stop offset="0.9752" stop-color="#ff0000"/><stop offset="0.9838" stop-color="#ff0000"/><stop offset="0.9920" stop-color="#ff0000"/><stop offset="1.0000" stop-color="#ff0000"/></linearGradient><linearGradient id="leg" x1="0" y1="0" x2="0" y2="1"><stop offset="0.000" stop-color="#ff0000"/><stop offset="0.025" stop-color="#fd000d"/><stop offset="0.050" stop-color="#fb0017"/><stop offset="0.075" stop-color="#fa001f"/><stop offset="0.100" stop-color="#f80025"/><stop offset="0.125" stop-color="#f6002b"/><stop offset="0.150" stop-color="#f40031"/><stop offset="0.175" stop-color="#f20037"/><stop offset="0.200" stop-color="#f0003c"/><stop offset="0.225" stop-color="#ee0041"/><stop offset="0.250" stop-color="#ec0046"/><stop offset="0.275" stop-color="#e9004c"/><stop offset="0.300" stop-color="#e70053"/><stop offset="0.325" stop-color="#e40059"/><stop offset="0.350" stop-color="#e1005f"/><stop offset="0.375" stop-color="#de0065"/><stop offset="0.400" stop-color="#da006c"/><stop offset="0.425" stop-color="#d70072"/><stop offset="0.450" stop-color="#d40078"/><stop offset="0.475" stop-color="#d0007d"/><stop offset="0.500" stop-color="#cd0083"/><stop offset="0.525" stop-color="#c90089"/><stop offset="0.550" stop-color="#c5008f"/><stop offset="0.575" stop-color="#c10095"/><stop offset="0.600" stop-color="#bd009b"/><stop offset="0.625" stop-color="#b800a2"/><stop offset="0.650" stop-color="#b300a8"/><stop offset="0.675" stop-color="#ad00af"/><stop offset="0.700" stop-color="#a800b5"/><stop offset="0.725" stop-color="#a200bb"/><stop offset="0.750" stop-color="#9b00c1"/><stop offset="0.775" stop-color="#9500c8"/><stop offset="0.800" stop-color="#8d00ce"/><stop offset="0.825" stop-color="#8500d4"/><stop offset="0.850" stop-color="#7d00da"/><stop offset="0.875" stop-color="#7300e0"/><stop offset="0.900" stop-color="#6800e7"/><stop offset="0.925" stop-color="#5b00ed"/><stop offset="0.950" stop-color="#4b00f3"/><stop offset="0.975" stop-color="#3500f9"/><stop offset="1.000" stop-color="#0000ff"/></linearGradient></defs><rect width="1486" height="1135" fill="#fff"/><line x1="318.20" y1="10.0" x2="318.20" y2="1062.0" stroke="#f0f0f0" stroke-width="1.3"/><line x1="646.40" y1="10.0" x2="646.40" y2="1062.0" stroke="#f0f0f0" stroke-width="1.3"/><line x1="974.60" y1="10.0" x2="974.60" y2="1062.0" stroke="#f0f0f0" stroke-width="1.3"/><line x1="105.0" y1="935.30" x2="1187.1" y2="935.30" stroke="#f0f0f0" stroke-width="1.3"/><line x1="105.0" y1="684.50" x2="1187.1" y2="684.50" stroke="#f0f0f0" stroke-width="1.3"/><line x1="105.0" y1="433.70" x2="1187.1" y2="433.70" stroke="#f0f0f0" stroke-width="1.3"/><line x1="105.0" y1="182.90" x2="1187.1" y2="182.90" stroke="#f0f0f0" stroke-width="1.3"/><line x1="154.10" y1="10.0" x2="154.10" y2="1062.0" stroke="#f0f0f0" stroke-width="2.4"/><line x1="482.30" y1="10.0" x2="482.30" y2="1062.0" stroke="#f0f0f0" stroke-width="2.4"/><line x1="810.50" y1="10.0" x2="810.50" y2="1062.0" stroke="#f0f0f0" stroke-width="2.4"/><line x1="1138.70" y1="10.0" x2="1138.70" y2="1062.0" stroke="#f0f0f0" stroke-width="2.4"/><line x1="105.0" y1="1060.70" x2="1187.1" y2="1060.70" stroke="#f0f0f0" stroke-width="2.4"/><line x1="105.0" y1="809.90" x2="1187.1" y2="809.90" stroke="#f0f0f0" stroke-width="2.4"/><line x1="105.0" y1="559.10" x2="1187.1" y2="559.10" stroke="#f0f0f0" stroke-width="2.4"/><line x1="105.0" y1="308.30" x2="1187.1" y2="308.30" stroke="#f0f0f0" stroke-width="2.4"/><line x1="105.0" y1="57.50" x2="1187.1" y2="57.50" stroke="#f0f0f0" stroke-width="2.4"/><rect x="220.64" y="58.80" width="34.02" height="75.80" fill="url(#g0)"/><rect x="253.46" y="60.80" width="34.02" height="132.20" fill="url(#g1)"/><rect x="286.28" y="63.80" width="34.02" height="202.70" fill="url(#g2)"/><rect x="319.10" y="67.30" width="34.02" height="273.20" fill="url(#g3)"/><rect x="351.92" y="80.00" width="34.02" height="420.60" fill="url(#g4)"/><rect x="384.74" y="89.40" width="34.02" height="499.40" fill="url(#g5)"/><rect x="417.56" y="95.90" width="34.02" height="541.00" fill="url(#g6)"/><rect x="450.38" y="100.80" width="34.02" height="562.90" fill="url(#g7)"/><rect x="483.20" y="110.90" width="132.48" height="610.10" fill="url(#g8)"/><rect x="614.48" y="130.40" width="34.02" height="671.10" fill="url(#g9)"/><rect x="647.30" y="142.50" width="34.02" height="695.60" fill="url(#g10)"/><rect x="680.12" y="153.90" width="99.66" height="713.30" fill="url(#g11)"/><rect x="778.58" y="175.00" width="165.30" height="733.60" fill="url(#g12)"/><rect x="942.68" y="219.00" width="196.92" height="746.00" fill="url(#g13)"/><line x1="154.10" y1="56.60" x2="220.64" y2="56.60" stroke="#6a0a30" stroke-width="1.4"/><line x1="154.10" y1="57.70" x2="219.74" y2="57.70" stroke="#e0000e" stroke-width="1.0"/><rect x="218.84" y="56.20" width="2.6" height="78.40" fill="#ff0000"/><rect x="251.66" y="134.60" width="2.6" height="58.40" fill="#ff0000"/><rect x="284.48" y="193.00" width="2.6" height="73.50" fill="#ff0000"/><rect x="317.30" y="266.50" width="2.6" height="74.00" fill="#ff0000"/><rect x="350.12" y="340.50" width="2.6" height="160.10" fill="#ff0000"/><rect x="382.94" y="500.60" width="2.6" height="88.20" fill="#ff0000"/><rect x="415.76" y="588.80" width="2.6" height="48.10" fill="#ff0000"/><rect x="448.58" y="636.90" width="2.6" height="26.80" fill="#ff0000"/><rect x="481.40" y="663.70" width="2.6" height="57.30" fill="#ff0000"/><rect x="612.68" y="721.00" width="2.6" height="80.50" fill="#ff0000"/><rect x="645.50" y="801.50" width="2.6" height="36.60" fill="#ff0000"/><rect x="678.32" y="838.10" width="2.6" height="29.10" fill="#ff0000"/><rect x="776.78" y="867.20" width="2.6" height="41.40" fill="#ff0000"/><rect x="940.88" y="908.60" width="2.6" height="56.40" fill="#ff0000"/><line x1="1138.70" y1="960.00" x2="1138.70" y2="1015.50" stroke="#ff0000" stroke-width="1.8"/><rect x="105.00" y="10.00" width="1082.10" height="1052.00" fill="none" stroke="#1e1e1e" stroke-width="2.3"/><line x1="97.3" y1="1060.70" x2="105.00" y2="1060.70" stroke="#1e1e1e" stroke-width="2.1"/><line x1="97.3" y1="809.90" x2="105.00" y2="809.90" stroke="#1e1e1e" stroke-width="2.1"/><line x1="97.3" y1="559.10" x2="105.00" y2="559.10" stroke="#1e1e1e" stroke-width="2.1"/><line x1="97.3" y1="308.30" x2="105.00" y2="308.30" stroke="#1e1e1e" stroke-width="2.1"/><line x1="97.3" y1="57.50" x2="105.00" y2="57.50" stroke="#1e1e1e" stroke-width="2.1"/><line x1="154.10" y1="1062.00" x2="154.10" y2="1069.9" stroke="#1e1e1e" stroke-width="2.1"/><line x1="482.30" y1="1062.00" x2="482.30" y2="1069.9" stroke="#1e1e1e" stroke-width="2.1"/><line x1="810.50" y1="1062.00" x2="810.50" y2="1069.9" stroke="#1e1e1e" stroke-width="2.1"/><line x1="1138.70" y1="1062.00" x2="1138.70" y2="1069.9" stroke="#1e1e1e" stroke-width="2.1"/><text x="91.0" y="1069.20" text-anchor="end" font-size="24.2" fill="#444444">0.00</text><text x="91.0" y="818.40" text-anchor="end" font-size="24.2" fill="#444444">0.25</text><text x="91.0" y="567.60" text-anchor="end" font-size="24.2" fill="#444444">0.50</text><text x="91.0" y="316.80" text-anchor="end" font-size="24.2" fill="#444444">0.75</text><text x="91.0" y="66.00" text-anchor="end" font-size="24.2" fill="#444444">1.00</text><text x="154.10" y="1092.6" text-anchor="middle" font-size="24.2" fill="#444444">0</text><text x="482.30" y="1092.6" text-anchor="middle" font-size="24.2" fill="#444444">10</text><text x="810.50" y="1092.6" text-anchor="middle" font-size="24.2" fill="#444444">20</text><text x="1138.70" y="1092.6" text-anchor="middle" font-size="24.2" fill="#444444">30</text><text x="645.75" y="1126" text-anchor="middle" font-size="29.3" fill="#000">Time</text><text transform="translate(30.8,535.6) rotate(-90)" text-anchor="middle" font-size="29.3" fill="#000">Survival Probability</text><rect x="1231.1" y="442.3" width="46.8" height="229.9" fill="url(#leg)"/><line x1="1240.5" y1="442.10" x2="1268.5" y2="442.10" stroke="#7a0010" stroke-width="0.9"/><line x1="1231.1" y1="442.30" x2="1240.5" y2="442.30" stroke="#ffffff" stroke-opacity="0.8" stroke-width="1.2"/><line x1="1268.5" y1="442.30" x2="1277.9" y2="442.30" stroke="#ffffff" stroke-opacity="0.8" stroke-width="1.2"/><text x="1288.0" y="450.90" font-size="24.2" fill="#000">0.5</text><line x1="1231.1" y1="518.93" x2="1240.5" y2="518.93" stroke="#ffffff" stroke-opacity="0.8" stroke-width="1.2"/><line x1="1268.5" y1="518.93" x2="1277.9" y2="518.93" stroke="#ffffff" stroke-opacity="0.8" stroke-width="1.2"/><text x="1288.0" y="527.53" font-size="24.2" fill="#000">0.0</text><line x1="1231.1" y1="595.57" x2="1240.5" y2="595.57" stroke="#ffffff" stroke-opacity="0.8" stroke-width="1.2"/><line x1="1268.5" y1="595.57" x2="1277.9" y2="595.57" stroke="#ffffff" stroke-opacity="0.8" stroke-width="1.2"/><text x="1288.0" y="604.17" font-size="24.2" fill="#000">−0.5</text><line x1="1231.1" y1="672.20" x2="1240.5" y2="672.20" stroke="#ffffff" stroke-opacity="0.8" stroke-width="1.2"/><line x1="1268.5" y1="672.20" x2="1277.9" y2="672.20" stroke="#ffffff" stroke-opacity="0.8" stroke-width="1.2"/><text x="1288.0" y="680.80" font-size="24.2" fill="#000">−1.0</text><text x="1230.8" y="423.9" font-size="29.3" fill="#000">Best response rate</text></svg>
</body></html>
